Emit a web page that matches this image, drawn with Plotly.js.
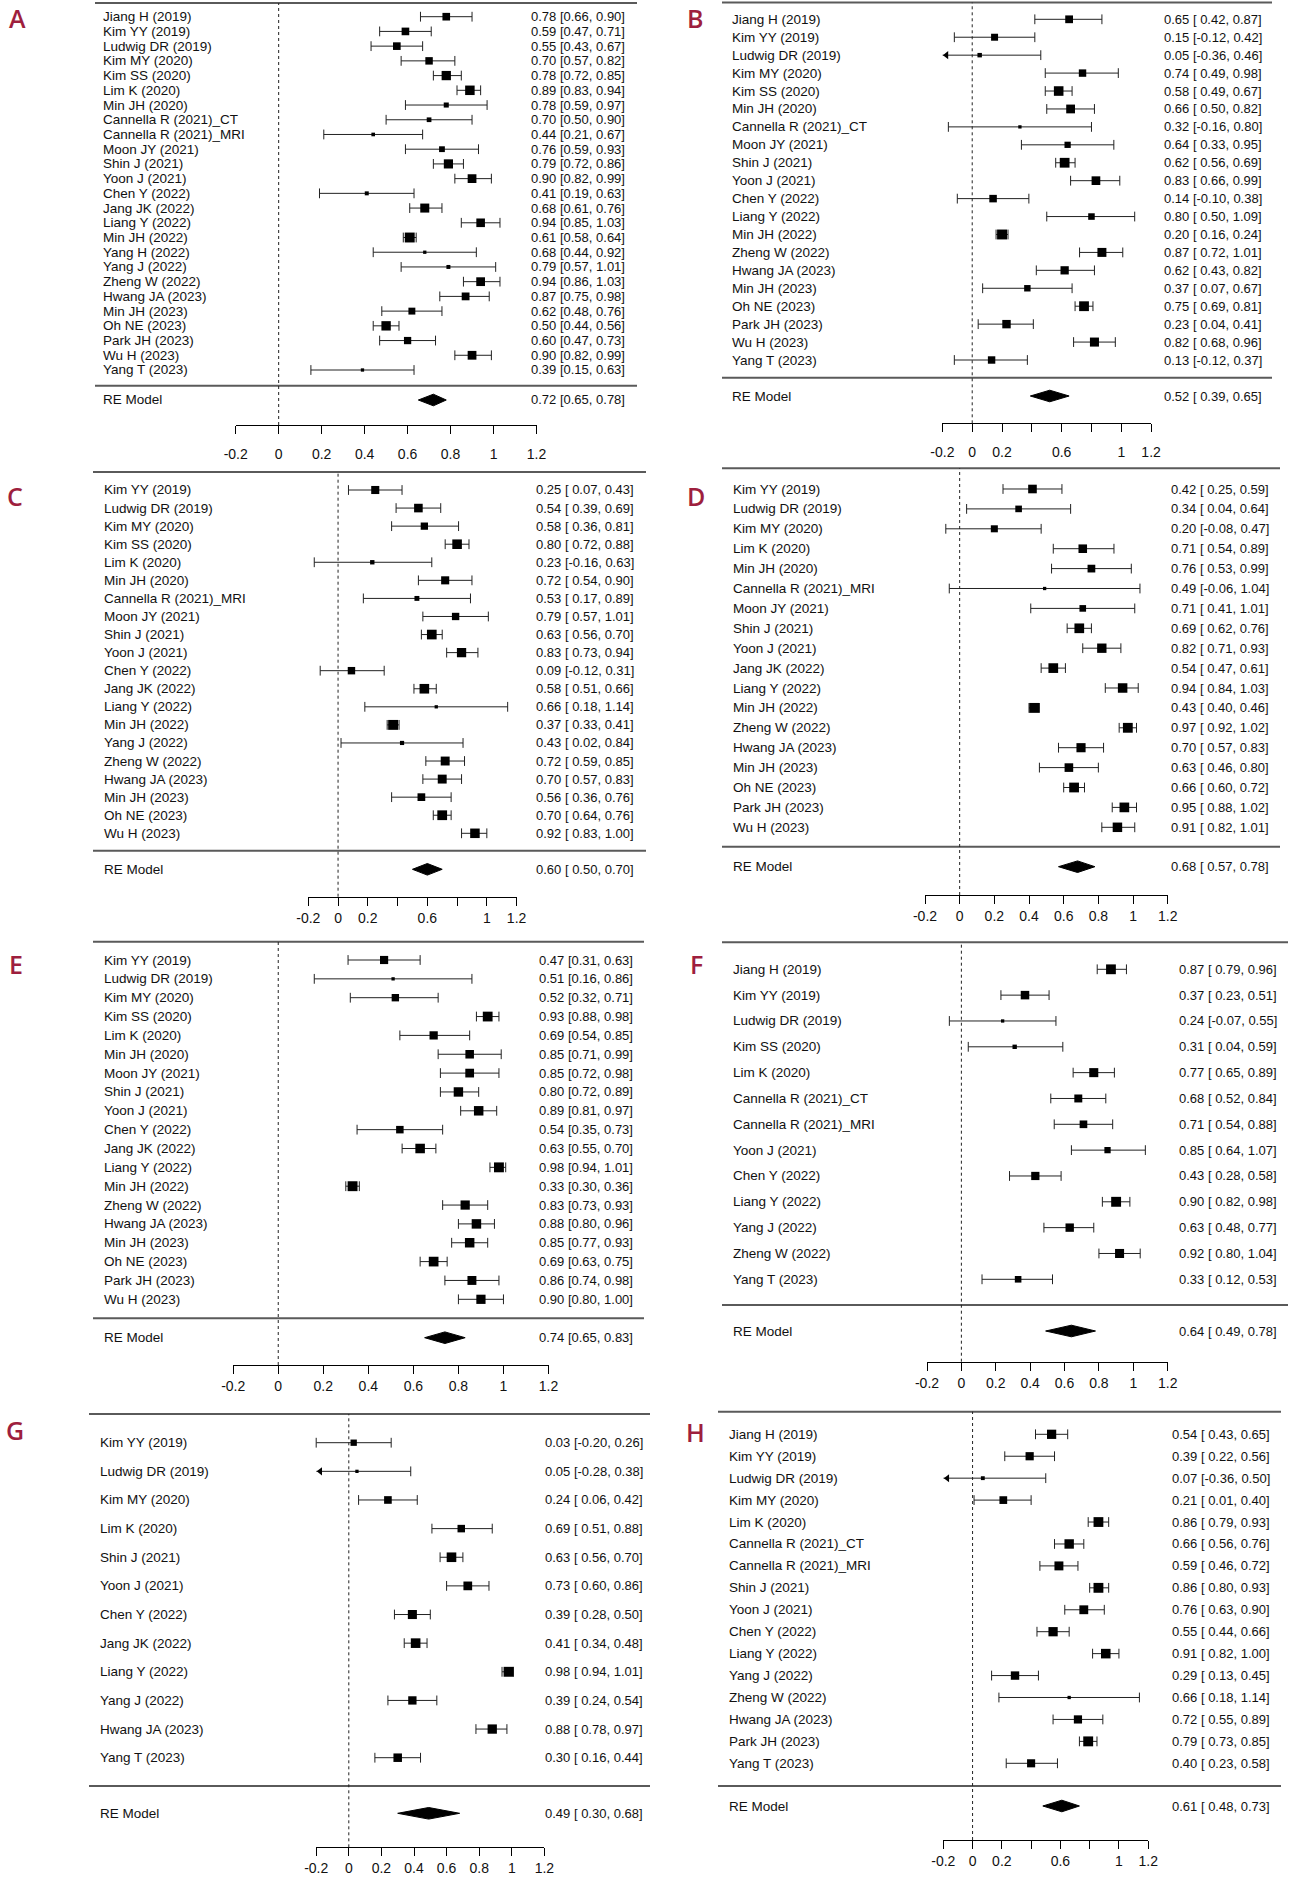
<!DOCTYPE html>
<html><head><meta charset="utf-8">
<script src="https://cdn.plot.ly/plotly-3.0.1.min.js"></script>
<style>html,body{margin:0;padding:0;background:#fff}</style>
</head><body><div id="chart" style="width:1294px;height:1894px"></div>
<script>
// ---------------- DATA ----------------
const panelLetters = ['A','B','C','D','E','F','G','H'];
const tickValues = [-0.2, 0, 0.2, 0.4, 0.6, 0.8, 1, 1.2];
const tickLabelsFull = ['-0.2','0','0.2','0.4','0.6','0.8','1','1.2'];
const tickLabelsSparse = ['-0.2','0','0.2','','0.6','','1','1.2'];
const summaryLabel = 'RE Model';

const studiesA = ['Jiang H (2019)','Kim YY (2019)','Ludwig DR (2019)','Kim MY (2020)','Kim SS (2020)','Lim K (2020)','Min JH (2020)','Cannella R (2021)_CT','Cannella R (2021)_MRI','Moon JY (2021)','Shin J (2021)','Yoon J (2021)','Chen Y (2022)','Jang JK (2022)','Liang Y (2022)','Min JH (2022)','Yang H (2022)','Yang J (2022)','Zheng W (2022)','Hwang JA (2023)','Min JH (2023)','Oh NE (2023)','Park JH (2023)','Wu H (2023)','Yang T (2023)'];
const estA   = [0.78,0.59,0.55,0.70,0.78,0.89,0.78,0.70,0.44,0.76,0.79,0.90,0.41,0.68,0.94,0.61,0.68,0.79,0.94,0.87,0.62,0.50,0.60,0.90,0.39];
const lowerA = [0.66,0.47,0.43,0.57,0.72,0.83,0.59,0.50,0.21,0.59,0.72,0.82,0.19,0.61,0.85,0.58,0.44,0.57,0.86,0.75,0.48,0.44,0.47,0.82,0.15];
const upperA = [0.90,0.71,0.67,0.82,0.85,0.94,0.97,0.90,0.67,0.93,0.86,0.99,0.63,0.76,1.03,0.64,0.92,1.01,1.03,0.98,0.76,0.56,0.73,0.99,0.63];
const pooledA = [0.72,0.65,0.78];

const studiesB = ['Jiang H (2019)','Kim YY (2019)','Ludwig DR (2019)','Kim MY (2020)','Kim SS (2020)','Min JH (2020)','Cannella R (2021)_CT','Moon JY (2021)','Shin J (2021)','Yoon J (2021)','Chen Y (2022)','Liang Y (2022)','Min JH (2022)','Zheng W (2022)','Hwang JA (2023)','Min JH (2023)','Oh NE (2023)','Park JH (2023)','Wu H (2023)','Yang T (2023)'];
const estB   = [0.65,0.15,0.05,0.74,0.58,0.66,0.32,0.64,0.62,0.83,0.14,0.80,0.20,0.87,0.62,0.37,0.75,0.23,0.82,0.13];
const lowerB = [0.42,-0.12,-0.36,0.49,0.49,0.50,-0.16,0.33,0.56,0.66,-0.10,0.50,0.16,0.72,0.43,0.07,0.69,0.04,0.68,-0.12];
const upperB = [0.87,0.42,0.46,0.98,0.67,0.82,0.80,0.95,0.69,0.99,0.38,1.09,0.24,1.01,0.82,0.67,0.81,0.41,0.96,0.37];
const pooledB = [0.52,0.39,0.65];

const studiesC = ['Kim YY (2019)','Ludwig DR (2019)','Kim MY (2020)','Kim SS (2020)','Lim K (2020)','Min JH (2020)','Cannella R (2021)_MRI','Moon JY (2021)','Shin J (2021)','Yoon J (2021)','Chen Y (2022)','Jang JK (2022)','Liang Y (2022)','Min JH (2022)','Yang J (2022)','Zheng W (2022)','Hwang JA (2023)','Min JH (2023)','Oh NE (2023)','Wu H (2023)'];
const estC   = [0.25,0.54,0.58,0.80,0.23,0.72,0.53,0.79,0.63,0.83,0.09,0.58,0.66,0.37,0.43,0.72,0.70,0.56,0.70,0.92];
const lowerC = [0.07,0.39,0.36,0.72,-0.16,0.54,0.17,0.57,0.56,0.73,-0.12,0.51,0.18,0.33,0.02,0.59,0.57,0.36,0.64,0.83];
const upperC = [0.43,0.69,0.81,0.88,0.63,0.90,0.89,1.01,0.70,0.94,0.31,0.66,1.14,0.41,0.84,0.85,0.83,0.76,0.76,1.00];
const pooledC = [0.60,0.50,0.70];

const studiesD = ['Kim YY (2019)','Ludwig DR (2019)','Kim MY (2020)','Lim K (2020)','Min JH (2020)','Cannella R (2021)_MRI','Moon JY (2021)','Shin J (2021)','Yoon J (2021)','Jang JK (2022)','Liang Y (2022)','Min JH (2022)','Zheng W (2022)','Hwang JA (2023)','Min JH (2023)','Oh NE (2023)','Park JH (2023)','Wu H (2023)'];
const estD   = [0.42,0.34,0.20,0.71,0.76,0.49,0.71,0.69,0.82,0.54,0.94,0.43,0.97,0.70,0.63,0.66,0.95,0.91];
const lowerD = [0.25,0.04,-0.08,0.54,0.53,-0.06,0.41,0.62,0.71,0.47,0.84,0.40,0.92,0.57,0.46,0.60,0.88,0.82];
const upperD = [0.59,0.64,0.47,0.89,0.99,1.04,1.01,0.76,0.93,0.61,1.03,0.46,1.02,0.83,0.80,0.72,1.02,1.01];
const pooledD = [0.68,0.57,0.78];

const studiesE = ['Kim YY (2019)','Ludwig DR (2019)','Kim MY (2020)','Kim SS (2020)','Lim K (2020)','Min JH (2020)','Moon JY (2021)','Shin J (2021)','Yoon J (2021)','Chen Y (2022)','Jang JK (2022)','Liang Y (2022)','Min JH (2022)','Zheng W (2022)','Hwang JA (2023)','Min JH (2023)','Oh NE (2023)','Park JH (2023)','Wu H (2023)'];
const estE   = [0.47,0.51,0.52,0.93,0.69,0.85,0.85,0.80,0.89,0.54,0.63,0.98,0.33,0.83,0.88,0.85,0.69,0.86,0.90];
const lowerE = [0.31,0.16,0.32,0.88,0.54,0.71,0.72,0.72,0.81,0.35,0.55,0.94,0.30,0.73,0.80,0.77,0.63,0.74,0.80];
const upperE = [0.63,0.86,0.71,0.98,0.85,0.99,0.98,0.89,0.97,0.73,0.70,1.01,0.36,0.93,0.96,0.93,0.75,0.98,1.00];
const pooledE = [0.74,0.65,0.83];

const studiesF = ['Jiang H (2019)','Kim YY (2019)','Ludwig DR (2019)','Kim SS (2020)','Lim K (2020)','Cannella R (2021)_CT','Cannella R (2021)_MRI','Yoon J (2021)','Chen Y (2022)','Liang Y (2022)','Yang J (2022)','Zheng W (2022)','Yang T (2023)'];
const estF   = [0.87,0.37,0.24,0.31,0.77,0.68,0.71,0.85,0.43,0.90,0.63,0.92,0.33];
const lowerF = [0.79,0.23,-0.07,0.04,0.65,0.52,0.54,0.64,0.28,0.82,0.48,0.80,0.12];
const upperF = [0.96,0.51,0.55,0.59,0.89,0.84,0.88,1.07,0.58,0.98,0.77,1.04,0.53];
const pooledF = [0.64,0.49,0.78];

const studiesG = ['Kim YY (2019)','Ludwig DR (2019)','Kim MY (2020)','Lim K (2020)','Shin J (2021)','Yoon J (2021)','Chen Y (2022)','Jang JK (2022)','Liang Y (2022)','Yang J (2022)','Hwang JA (2023)','Yang T (2023)'];
const estG   = [0.03,0.05,0.24,0.69,0.63,0.73,0.39,0.41,0.98,0.39,0.88,0.30];
const lowerG = [-0.20,-0.28,0.06,0.51,0.56,0.60,0.28,0.34,0.94,0.24,0.78,0.16];
const upperG = [0.26,0.38,0.42,0.88,0.70,0.86,0.50,0.48,1.01,0.54,0.97,0.44];
const pooledG = [0.49,0.30,0.68];

const studiesH = ['Jiang H (2019)','Kim YY (2019)','Ludwig DR (2019)','Kim MY (2020)','Lim K (2020)','Cannella R (2021)_CT','Cannella R (2021)_MRI','Shin J (2021)','Yoon J (2021)','Chen Y (2022)','Liang Y (2022)','Yang J (2022)','Zheng W (2022)','Hwang JA (2023)','Park JH (2023)','Yang T (2023)'];
const estH   = [0.54,0.39,0.07,0.21,0.86,0.66,0.59,0.86,0.76,0.55,0.91,0.29,0.66,0.72,0.79,0.40];
const lowerH = [0.43,0.22,-0.36,0.01,0.79,0.56,0.46,0.80,0.63,0.44,0.82,0.13,0.18,0.55,0.73,0.23];
const upperH = [0.65,0.56,0.50,0.40,0.93,0.76,0.72,0.93,0.90,0.66,1.00,0.45,1.14,0.89,0.85,0.58];
const pooledH = [0.61,0.48,0.73];

// ---------------- LAYOUT GEOMETRY (pixels) ----------------
const W = 1294, H = 1894;
const geom = [
  {lx0:95,  lx1:637,  top:3,     first:16.7,  last:370,    sep:385.7,  re:400,    axis:425,    xa:235.7, xb:536.5,  labX:101,   valX:627,   letX:17,  letY:18,   off:27},
  {lx0:722, lx1:1272, top:2.5,   first:19.3,  last:360,    sep:377.7,  re:396,    axis:423.3,  xa:942.4, xb:1151.1, labX:730,   valX:1264,  letX:695, letY:18,   off:27},
  {lx0:93,  lx1:646,  top:472,   first:490,   last:833.3,  sep:850.7,  re:869.3,  axis:896.7,  xa:308.3, xb:516.6,  labX:101.5, valX:636,   letX:15,  letY:496,  off:27.5},
  {lx0:722, lx1:1280, top:468.3, first:489,   last:827.3,  sep:846.7,  re:866.7,  axis:895,    xa:925,   xb:1167.7, labX:731,   valX:1271,  letX:696, letY:496,  off:27.3},
  {lx0:93,  lx1:644,  top:941.7, first:960,   last:1299.3, sep:1318.3, re:1337.7, axis:1365,   xa:233.2, xb:548.5,  labX:101.5, valX:635,   letX:16,  letY:964,  off:27.3},
  {lx0:722, lx1:1288, top:942.3, first:969.3, last:1279.3, sep:1305,   re:1331,   axis:1361.7, xa:927,   xb:1167.7, labX:731,   valX:1279,  letX:696, letY:964,  off:28.3},
  {lx0:89,  lx1:650,  top:1414,  first:1442.7,last:1757.7, sep:1786,   re:1813.3, axis:1847.3, xa:316.2, xb:544.4,  labX:97.5,  valX:645,   letX:15,  letY:1430, off:29.4},
  {lx0:718, lx1:1281, top:1411.7,first:1434.3,last:1763.3, sep:1786,   re:1806,   axis:1840,   xa:943.3, xb:1148.2, labX:727,   valX:1271.5,letX:695, letY:1432, off:23.5}
];

const panels = [
  {studies:studiesA, est:estA, lo:lowerA, hi:upperA, pooled:pooledA, ticks:tickLabelsFull},
  {studies:studiesB, est:estB, lo:lowerB, hi:upperB, pooled:pooledB, ticks:tickLabelsSparse},
  {studies:studiesC, est:estC, lo:lowerC, hi:upperC, pooled:pooledC, ticks:tickLabelsSparse},
  {studies:studiesD, est:estD, lo:lowerD, hi:upperD, pooled:pooledD, ticks:tickLabelsFull},
  {studies:studiesE, est:estE, lo:lowerE, hi:upperE, pooled:pooledE, ticks:tickLabelsFull},
  {studies:studiesF, est:estF, lo:lowerF, hi:upperF, pooled:pooledF, ticks:tickLabelsFull},
  {studies:studiesG, est:estG, lo:lowerG, hi:upperG, pooled:pooledG, ticks:tickLabelsFull},
  {studies:studiesH, est:estH, lo:lowerH, hi:upperH, pooled:pooledH, ticks:tickLabelsSparse}
];

// ---------------- HELPERS ----------------
const FONT = 'Liberation Sans, Arial, Helvetica, sans-serif';
const px2x = p => p / W;
const px2y = p => 1 - p / H;
const sum = a => a.reduce((s, v) => s + v, 0);

// random-effects weights (DerSimonian-Laird) from the CIs -> relative square size
function squareSizes(est, lo, hi) {
  const v = lo.map((l, i) => Math.pow((hi[i] - l) / (2 * 1.96), 2));
  const w = v.map(x => 1 / x);
  const sw = sum(w);
  const ybar = sum(w.map((wi, i) => wi * est[i])) / sw;
  const Q = sum(w.map((wi, i) => wi * Math.pow(est[i] - ybar, 2)));
  const C = sw - sum(w.map(wi => wi * wi)) / sw;
  const tau2 = Math.max(0, (Q - (est.length - 1)) / C);
  const rw = v.map(x => 1 / (x + tau2));
  const mn = Math.min(...rw), mx = Math.max(...rw);
  return rw.map(x => 6.6 * (0.5 + (mx > mn ? (x - mn) / (mx - mn) : 0.5)));
}

function fmtRow(e, l, u, pad) {
  const f = v => v.toFixed(2);
  const p = v => (pad && v >= 0 ? ' ' : '') + f(v);
  return f(e) + ' [' + p(l) + ', ' + f(u) + ']';
}

const traces = [];
const shapes = [];
const annotations = [];
const layout = {
  width: W, height: H,
  margin: {l: 0, r: 0, t: 0, b: 0},
  paper_bgcolor: '#ffffff', plot_bgcolor: 'rgba(0,0,0,0)',
  showlegend: false,
  font: {family: FONT, size: 13.5, color: '#111'},
  hovermode: false
};

panels.forEach((P, idx) => {
  const g = geom[idx];
  const n = idx + 1;
  const xa = 'x' + (n === 1 ? '' : n), ya = 'y' + (n === 1 ? '' : n);
  const xKey = 'xaxis' + (n === 1 ? '' : n), yKey = 'yaxis' + (n === 1 ? '' : n);
  const k = P.studies.length;
  const spacing = (g.last - g.first) / (k - 1);
  const row = p => (p - g.first) / spacing; // pixel -> row index
  const xmin = tickValues[0], xmax = tickValues[tickValues.length - 1];
  const pxPerUnit = (g.xb - g.xa) / (xmax - xmin);
  const rowIdx = P.studies.map((s, i) => i);

  layout[xKey] = {
    domain: [px2x(g.xa), px2x(g.xb)], range: [xmin, xmax], anchor: ya,
    showline: true, linecolor: '#000', linewidth: 1,
    ticks: 'outside', ticklen: 8, tickwidth: 1, tickcolor: '#000',
    tickvals: tickValues, ticktext: P.ticks, tickangle: 0,
    ticklabelstandoff: Math.max(0, g.off - 19),
    tickfont: {family: FONT, size: 14, color: '#111'},
    showgrid: false, zeroline: false, fixedrange: true
  };
  layout[yKey] = {
    domain: [px2y(g.axis), px2y(g.top)], range: [row(g.axis), row(g.top)],
    anchor: xa, visible: false, showgrid: false, zeroline: false, fixedrange: true
  };

  // lines: top rule, separator, dotted zero line
  shapes.push({type: 'line', xref: 'paper', yref: 'paper', x0: px2x(g.lx0), x1: px2x(g.lx1), y0: px2y(g.top), y1: px2y(g.top), line: {color: '#5a5a5a', width: 2}});
  shapes.push({type: 'line', xref: 'paper', yref: 'paper', x0: px2x(g.lx0), x1: px2x(g.lx1), y0: px2y(g.sep), y1: px2y(g.sep), line: {color: '#5a5a5a', width: 2}});
  shapes.push({type: 'line', xref: xa, yref: 'paper', x0: 0, x1: 0, y0: px2y(g.axis), y1: px2y(g.top), line: {color: '#222', width: 1, dash: 'dot'}});

  // CI lines (clipped at axis limit)
  const lx = [], ly = [], capX = [], capY = [], arX = [], arY = [];
  P.est.forEach((e, i) => {
    const l = Math.max(P.lo[i], xmin), u = Math.min(P.hi[i], xmax);
    lx.push(l, u, null); ly.push(i, i, null);
    if (P.lo[i] >= xmin) { capX.push(P.lo[i]); capY.push(i); }
    else { arX.push(xmin + (0.577 * 7) / pxPerUnit); arY.push(i); }
    capX.push(P.hi[i]); capY.push(i);
  });
  traces.push({type: 'scatter', mode: 'lines', x: lx, y: ly, xaxis: xa, yaxis: ya, line: {color: '#222', width: 1}, hoverinfo: 'skip', cliponaxis: false});
  traces.push({type: 'scatter', mode: 'markers', x: capX, y: capY, xaxis: xa, yaxis: ya, marker: {symbol: 'line-ns', size: 7, color: '#222', opacity: 1, line: {color: '#222', width: 1}}, hoverinfo: 'skip', cliponaxis: false});
  if (arX.length) {
    traces.push({type: 'scatter', mode: 'markers', x: arX, y: arY, xaxis: xa, yaxis: ya, marker: {symbol: 'triangle-left', size: 7, color: '#000', opacity: 1, line: {width: 0}}, hoverinfo: 'skip', cliponaxis: false});
  }
  // squares
  traces.push({type: 'scatter', mode: 'markers', x: P.est, y: rowIdx, xaxis: xa, yaxis: ya,
    marker: {symbol: 'square', size: squareSizes(P.est, P.lo, P.hi), color: '#000', opacity: 1, line: {width: 0}}, hoverinfo: 'skip', cliponaxis: false});
  // summary diamond
  const reRow = row(g.re);
  const hh = 5.8 / spacing;
  const [pe, pl, pu] = P.pooled;
  traces.push({type: 'scatter', mode: 'lines', x: [pl, pe, pu, pe, pl], y: [reRow, reRow - hh, reRow, reRow + hh, reRow],
    xaxis: xa, yaxis: ya, fill: 'toself', fillcolor: '#000', line: {color: '#000', width: 1}, hoverinfo: 'skip', cliponaxis: false});

  // text
  const pad = P.lo.some(v => v < 0) || pl < 0;
  P.studies.forEach((s, i) => {
    annotations.push({xref: 'paper', yref: ya, x: px2x(g.labX), y: i, text: s, showarrow: false, xanchor: 'left', yanchor: 'middle', font: {family: FONT, size: 13.5, color: '#111'}});
    annotations.push({xref: 'paper', yref: ya, x: px2x(g.valX), y: i, text: fmtRow(P.est[i], P.lo[i], P.hi[i], pad), showarrow: false, xanchor: 'right', yanchor: 'middle', font: {family: FONT, size: 13, color: '#111'}});
  });
  annotations.push({xref: 'paper', yref: ya, x: px2x(g.labX), y: reRow, text: summaryLabel, showarrow: false, xanchor: 'left', yanchor: 'middle', font: {family: FONT, size: 13.5, color: '#111'}});
  annotations.push({xref: 'paper', yref: ya, x: px2x(g.valX), y: reRow, text: fmtRow(pe, pl, pu, pad), showarrow: false, xanchor: 'right', yanchor: 'middle', font: {family: FONT, size: 13, color: '#111'}});
  // panel letter
  annotations.push({xref: 'paper', yref: 'paper', x: px2x(g.letX), y: px2y(g.letY), text: panelLetters[idx], showarrow: false, xanchor: 'center', yanchor: 'middle', font: {family: 'Open Sans, Noto Sans, sans-serif', size: 25, color: '#9e1f3e', weight: 600}});
});

layout.shapes = shapes;
layout.annotations = annotations;
Plotly.newPlot('chart', traces, layout, {staticPlot: true, displayModeBar: false});
</script></body></html>
